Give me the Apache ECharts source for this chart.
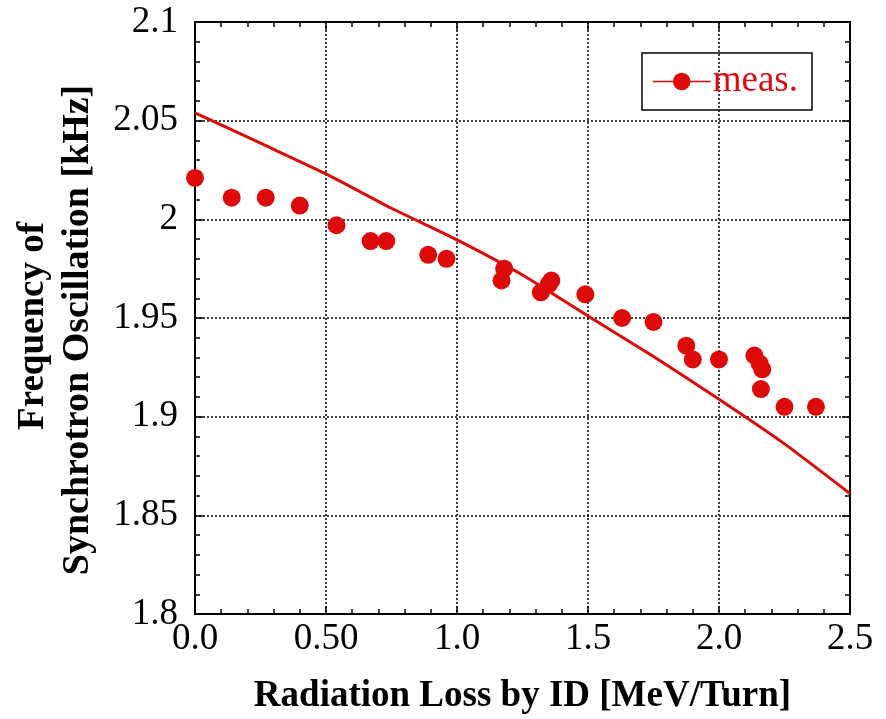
<!DOCTYPE html>
<html><head><meta charset="utf-8">
<script src="https://cdn.jsdelivr.net/npm/echarts@6/dist/echarts.min.js"></script>
<style>html,body{margin:0;padding:0;background:#fff}#c{width:886px;height:719px}</style>
</head><body><div id="c"></div>
<script>
const xTickLabels = ['0.0', '0.50', '1.0', '1.5', '2.0', '2.5'];
const yTickLabels = ['1.8', '1.85', '1.9', '1.95', '2', '2.05', '2.1'];
const measX = [0.00, 0.14, 0.27, 0.40, 0.54, 0.67, 0.73, 0.89, 0.96, 1.18, 1.17, 1.32, 1.35, 1.36, 1.49, 1.63, 1.75, 1.875, 1.90, 2.00, 2.135, 2.155, 2.165, 2.16, 2.25, 2.37];
const measY = [2.021, 2.011, 2.011, 2.007, 1.997, 1.989, 1.989, 1.982, 1.980, 1.975, 1.969, 1.963, 1.967, 1.969, 1.962, 1.950, 1.948, 1.936, 1.929, 1.929, 1.931, 1.927, 1.924, 1.914, 1.905, 1.905];
const calcX = [0, 0.25, 0.5, 0.75, 1.0, 1.25, 1.5, 1.75, 2.0, 2.25, 2.5];
const calcY = [2.054, 2.0386, 2.023, 2.0056, 1.9896, 1.9718, 1.951, 1.9305, 1.9088, 1.8862, 1.861];

const RED = '#dd0a0a';
const FONT = '"Liberation Serif", "Times New Roman", serif';
const chart = echarts.init(document.getElementById('c'));

function axisCommon(extra) {
  return Object.assign({
    type: 'value',
    axisLine: { show: true, onZero: false, lineStyle: { color: '#000', width: 2 } },
    axisTick: { show: true, inside: true, length: 8, lineStyle: { color: '#000', width: 1.5 } },
    minorTick: { show: true, splitNumber: 5, length: 5, lineStyle: { color: '#000', width: 1.5 } },
    splitLine: { show: false }
  }, extra);
}
const gridLine = { show: true, lineStyle: { color: '#000', width: 1.5, type: [2, 2] } };

chart.setOption({
  animation: false,
  backgroundColor: '#fff',
  grid: { left: 195, right: 36, top: 22, bottom: 105, containLabel: false, outerBoundsMode: 'none' },
  legend: {
    data: ['meas.'],
    right: 74, top: 53,
    padding: [10, 14, 10, 10],
    borderColor: '#000', borderWidth: 1.5,
    itemWidth: 58, itemHeight: 22, itemGap: 0,
    lineStyle: { width: 1.5, opacity: 1 },
    textStyle: { color: RED, fontSize: 37, fontFamily: FONT, padding: [0, 0, 0, -3] }
  },
  xAxis: [
    axisCommon({
      position: 'bottom', min: 0, max: 2.5, interval: 0.5,
      splitLine: gridLine,
      axisLabel: { color: '#000', fontSize: 37, fontFamily: FONT, margin: 7,
        formatter: v => xTickLabels[Math.round(v / 0.5)] },
      name: 'Radiation Loss by ID [MeV/Turn]', nameLocation: 'middle', nameGap: 64,
      nameTextStyle: { color: '#000', fontSize: 37, fontWeight: 'bold', fontFamily: FONT }
    }),
    axisCommon({ position: 'top', min: 0, max: 2.5, interval: 0.5, axisLabel: { show: false } })
  ],
  yAxis: [
    axisCommon({
      position: 'left', min: 1.8, max: 2.1, interval: 0.05,
      splitLine: gridLine,
      axisLabel: { color: '#000', fontSize: 37, fontFamily: FONT, margin: 17,
        formatter: v => yTickLabels[Math.round((v - 1.8) / 0.05)] }
    }),
    axisCommon({ position: 'right', min: 1.8, max: 2.1, interval: 0.05, axisLabel: { show: false } })
  ],
  graphic: [
    { type: 'text', x: 33, y: 326, rotation: Math.PI / 2,
      style: { text: 'Frequency of', fontSize: 37, fontWeight: 'bold', fontFamily: FONT, fill: '#000', align: 'center', verticalAlign: 'middle' } },
    { type: 'text', x: 78, y: 330, rotation: Math.PI / 2,
      style: { text: 'Synchrotron Oscillation [kHz]', fontSize: 38, fontWeight: 'bold', fontFamily: FONT, fill: '#000', align: 'center', verticalAlign: 'middle' } }
  ],
  series: [
    {
      name: 'calc', type: 'line', data: calcX.map((x, i) => [x, calcY[i]]),
      showSymbol: false, symbol: 'none', smooth: 0.2,
      lineStyle: { color: RED, width: 3 }, clip: false, z: 3
    },
    {
      name: 'meas.', type: 'line', data: measX.map((x, i) => [x, measY[i]]),
      symbol: 'circle', symbolSize: 18, showSymbol: true,
      itemStyle: { color: RED },
      lineStyle: { color: RED, width: 0 }, clip: false, z: 4
    }
  ]
});
</script></body></html>
